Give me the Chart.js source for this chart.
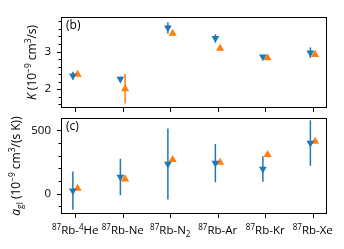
<!DOCTYPE html>
<html><head><meta charset="utf-8">
<script src="https://cdn.jsdelivr.net/npm/chart.js@4/dist/chart.umd.min.js"></script>
<style>
html,body{margin:0;padding:0;background:#fff;}
#wrap{position:relative;width:344px;height:249px;}
canvas{position:absolute;left:0;top:0;}
</style></head>
<body><div id="wrap"><canvas id="c1" width="344" height="249"></canvas><canvas id="c2" width="344" height="249"></canvas></div>
<script>
const categories = ['⁸⁷Rb-⁴He','⁸⁷Rb-Ne','⁸⁷Rb-N₂','⁸⁷Rb-Ar','⁸⁷Rb-Kr','⁸⁷Rb-Xe'];
// Panel (b): K (10^-9 cm^3/s)
const kBlue      = [2.36, 2.27, 3.63, 3.35, 2.86, 2.97];
const kBlueErr   = [0.10, 0.065, 0.15, 0.11, 0.03, 0.14];
const kOrange    = [2.39, 2.01, 3.48, 3.08, 2.83, 2.92];
const kOrangeErr = [0.02, 0.39, 0.05, 0.02, 0.02, 0.02];
// Panel (c): a_gl (10^-9 cm^3/(s K))
const aBlue      = [24, 132, 235, 242, 195, 400];
const aBlueErr   = [151, 144, 280, 151, 100, 180];
const aOrange    = [42, 116, 269, 247, 308, 413];
const aOrangeErr = [5, 5, 5, 5, 5, 5];
// tick labels
const kTicks = [2, 3];
const aTicks = [0, 500];

const BLUE = '#1f77b4', ORANGE = '#ff7f0e';
const FONT = "'Open Sans'";
const OFF = 0.05;

function pts(vals, off){ return vals.map((v,i)=>({x:i+off, y:v})); }

const SUP = {'⁰':'0','¹':'1','²':'2','³':'3','⁴':'4','⁵':'5','⁶':'6','⁷':'7','⁸':'8','⁹':'9','⁻':'−'};
const SUB = {'₀':'0','₁':'1','₂':'2','₃':'3'};
function parseRich(str){
  const segs = [];
  for (const ch of str){
    let s;
    if (SUP[ch]) s = {t:SUP[ch], sup:true};
    else if (SUB[ch]) s = {t:SUB[ch], sub:true};
    else s = {t:ch};
    const last = segs[segs.length-1];
    if (last && !!last.sup===!!s.sup && !!last.sub===!!s.sub) last.t += s.t; else segs.push(s);
  }
  return segs;
}

function richText(ctx, x, y, segs, size, rotate){
  ctx.save();
  ctx.translate(x, y);
  if (rotate) ctx.rotate(-Math.PI/2);
  ctx.fillStyle = '#000';
  ctx.textBaseline = 'alphabetic';
  const fontFor = s => (s.it ? 'italic ' : '') + ((s.sup||s.sub) ? size*0.7 : size) + 'px ' + FONT;
  let total = 0;
  segs.forEach(s=>{ ctx.font = fontFor(s); total += ctx.measureText(s.t).width; });
  let cx = -total/2;
  segs.forEach(s=>{
    ctx.font = fontFor(s);
    const dy = s.sup ? -size*0.38 : (s.sub ? size*0.22 : 0);
    ctx.textAlign = 'left';
    ctx.fillText(s.t, cx, dy);
    cx += ctx.measureText(s.t).width;
  });
  ctx.restore();
}

function makePlugin(cfg){
  return {
    id: 'deco',
    beforeDatasetsDraw(chart){
      const ctx = chart.ctx, xs = chart.scales.x, ys = chart.scales.y;
      ctx.save();
      ctx.lineWidth = 1.5;
      [[cfg.blue, cfg.blueErr, -OFF, BLUE],[cfg.orange, cfg.orangeErr, OFF, ORANGE]].forEach(([v,e,off,col])=>{
        ctx.strokeStyle = col;
        v.forEach((val,i)=>{
          const px = xs.getPixelForValue(i+off);
          ctx.beginPath();
          ctx.moveTo(px, ys.getPixelForValue(val-e[i]));
          ctx.lineTo(px, ys.getPixelForValue(val+e[i]));
          ctx.stroke();
        });
      });
      ctx.restore();
    },
    afterDraw(chart){
      const ctx = chart.ctx, a = chart.chartArea, xs = chart.scales.x, ys = chart.scales.y;
      ctx.save();
      ctx.strokeStyle = '#000';
      ctx.lineWidth = 1;
      ctx.strokeRect(Math.round(a.left)+0.5, Math.round(a.top)+0.5, Math.round(a.right-a.left)-1, Math.round(a.bottom-a.top)-1);
      ys.ticks.forEach(t=>{
        const py = Math.round(ys.getPixelForValue(t.value))+0.5;
        ctx.beginPath(); ctx.moveTo(a.left, py); ctx.lineTo(a.left-4, py); ctx.stroke();
      });
      for (let v = Math.ceil(ys.min/cfg.minor)*cfg.minor; v <= ys.max; v += cfg.minor){
        const py = Math.round(ys.getPixelForValue(v))+0.5;
        ctx.beginPath(); ctx.moveTo(a.left, py); ctx.lineTo(a.left-2.5, py); ctx.stroke();
      }
      xs.ticks.forEach(t=>{
        const px = Math.round(xs.getPixelForValue(t.value))+0.5;
        ctx.beginPath(); ctx.moveTo(px, a.bottom); ctx.lineTo(px, a.bottom+4); ctx.stroke();
      });
      ctx.fillStyle = '#000';
      ctx.font = '12px ' + FONT;
      ctx.textAlign = 'left'; ctx.textBaseline = 'top';
      ctx.fillText(cfg.panel, a.left+5, a.top+3);
      ctx.restore();
      if (cfg.xlabels){
        xs.ticks.forEach((t,i)=>{
          richText(ctx, xs.getPixelForValue(t.value), a.bottom+20, parseRich(categories[i]), 11.5, false);
        });
      }
      richText(ctx, cfg.titleX, (a.top+a.bottom)/2, cfg.title, 12, true);
    }
  };
}

function build(id, cfg){
  return new Chart(document.getElementById(id), {
    type: 'scatter',
    data: { datasets: [
      { data: pts(cfg.blue, -OFF), pointStyle: 'triangle', rotation: 180, pointRadius: 4.5, backgroundColor: BLUE, borderColor: BLUE, borderWidth: 0 },
      { data: pts(cfg.orange, OFF), pointStyle: 'triangle', pointRadius: 4.7, backgroundColor: ORANGE, borderColor: ORANGE, borderWidth: 0 }
    ]},
    options: {
      responsive: false, animation: false, devicePixelRatio: 1,
      layout: { padding: cfg.padding },
      plugins: { legend: {display:false}, tooltip: {enabled:false} },
      scales: {
        x: { type: 'linear', min: -0.3, max: 5.3,
             grid: {display:false, drawTicks:false}, border: {display:false},
             afterBuildTicks: s => { s.ticks = categories.map((c,i)=>({value:i})); },
             afterFit: s => { s.height = cfg.xh; },
             ticks: { display: false, callback: (v) => categories[Math.round(v)] } },
        y: { min: cfg.ymin, max: cfg.ymax,
             grid: {display:false, drawTicks:false}, border: {display:false},
             afterBuildTicks: s => { s.ticks = cfg.ticks.map(v=>({value:v})); },
             afterFit: s => { s.width = 61; },
             ticks: { padding: 10, color: '#000', font: {family: FONT, size: 11.5},
                      callback: v => String(v) } }
      }
    },
    plugins: [makePlugin(cfg)]
  });
}

build('c1', { blue:kBlue, blueErr:kBlueErr, orange:kOrange, orangeErr:kOrangeErr,
  ymin:1.5, ymax:3.92, ticks:kTicks, minor:0.2, panel:'(b)', titleX:36,
  title:[{t:'K',it:true},{t:' (10'},{t:'−9',sup:true},{t:' cm'},{t:'3',sup:true},{t:'/s)'}],
  padding:{left:0, right:17, top:10, bottom:141}, xh:0, xlabels:false });

build('c2', { blue:aBlue, blueErr:aBlueErr, orange:aOrange, orangeErr:aOrangeErr,
  ymin:-160, ymax:598, ticks:aTicks, minor:100, panel:'(c)', titleX:20,
  title:[{t:'a',it:true},{t:'gl',sub:true},{t:' (10'},{t:'−9',sup:true},{t:' cm'},{t:'3',sup:true},{t:'/(s K))'}],
  padding:{left:0, right:17, top:118, bottom:0}, xh:35, xlabels:true });
</script>
</body></html>
